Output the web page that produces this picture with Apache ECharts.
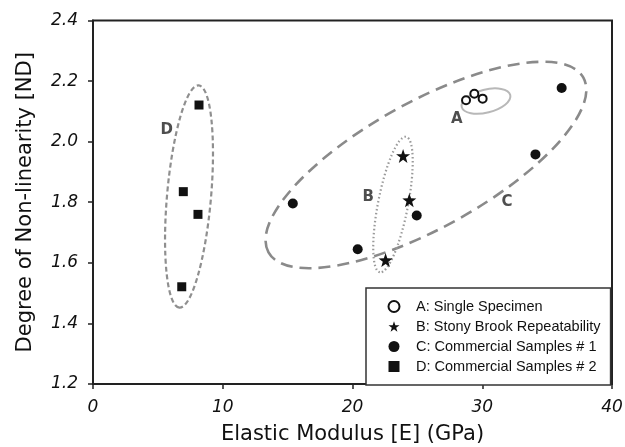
<!DOCTYPE html>
<html>
<head>
<meta charset="utf-8">
<script src="https://cdn.jsdelivr.net/npm/echarts@6/dist/echarts.min.js"></script>
<style>html,body{margin:0;padding:0;background:#fff}#c{width:625px;height:447px}</style>
</head>
<body>
<div id="c"></div>
<script>
// ---- data ----
var seriesNames = ['A: Single Specimen', 'B: Stony Brook Repeatability', 'C: Commercial Samples # 1', 'D: Commercial Samples # 2'];
var dataA = [[28.75, 2.137], [29.39, 2.158], [30.03, 2.142]];
var dataB = [[23.9, 1.953], [24.38, 1.807], [22.55, 1.609]];
var dataC = [[15.4, 1.796], [20.4, 1.645], [24.95, 1.756], [34.1, 1.958], [36.12, 2.177]];
var dataD = [[8.17, 2.121], [6.96, 1.835], [8.09, 1.76], [6.84, 1.521]];
var xTicks = [0, 10, 20, 30, 40];
var yTicks = [1.2, 1.4, 1.6, 1.8, 2.0, 2.2, 2.4];
// group labels (data coords)
var groupLabels = [['A', 28.03, 2.074], ['B', 21.22, 1.818], ['C', 31.9, 1.802], ['D', 5.68, 2.039]];
// enclosing ellipses: centre in data coords
var ellipseCentres = [[25.66, 1.923], [7.40, 1.819], [23.12, 1.7925], [30.29, 2.134]];
// ellipse shape (pixels / degrees) and style
var ellipseShapes = [
  {rx: 180, ry: 63, angle: 29, color: '#8a8a8a', width: 2.6, dash: [12, 7]},
  {rx: 111.5, ry: 22, angle: 85, color: '#8f8f8f', width: 2.2, dash: [5, 3]},
  {rx: 69, ry: 15, angle: 79, color: '#9a9a9a', width: 2.2, dash: [1.5, 2.5]},
  {rx: 25, ry: 11.5, angle: 14, color: '#b8b8b8', width: 2, dash: null}
];

var FONT = 'Liberation Sans, Arial, sans-serif';
var WFONT = 'DejaVu Sans, sans-serif';
var STAR = 'path://M0,-10 L2.35,-3.24 L9.51,-3.09 L3.8,1.24 L5.88,8.09 L0,4 L-5.88,8.09 L-3.8,1.24 L-9.51,-3.09 L-2.35,-3.24 Z';

var chart = echarts.init(document.getElementById('c'), null, {renderer: 'canvas'});
var option = {
  backgroundColor: '#fff',
  animation: false,
  grid: {left: 93, top: 20.5, right: 13, bottom: 63, outerBoundsMode: 'none', containLabel: false,
    show: true, borderColor: '#222', borderWidth: 2, backgroundColor: 'transparent'},
  xAxis: {
    type: 'value', min: xTicks[0], max: xTicks[xTicks.length - 1], interval: 10,
    name: 'Elastic Modulus [E] (GPa)', nameLocation: 'middle', nameGap: 40,
    nameTextStyle: {fontFamily: WFONT, fontSize: 21, color: '#111'},
    axisLine: {show: true, lineStyle: {color: '#222', width: 2}},
    axisTick: {show: true, inside: false, length: 5, lineStyle: {color: '#222', width: 1.5}},
    axisLabel: {fontFamily: WFONT, fontSize: 17, fontStyle: 'italic', color: '#111', margin: 15},
    splitLine: {show: false}
  },
  yAxis: {
    type: 'value', min: yTicks[0], max: yTicks[yTicks.length - 1], interval: 0.2,
    name: 'Degree of Non-linearity [ND]', nameLocation: 'middle', nameGap: 57, nameRotate: 90,
    nameTextStyle: {fontFamily: WFONT, fontSize: 21, color: '#111'},
    axisLine: {show: true, lineStyle: {color: '#222', width: 2}},
    axisTick: {show: true, inside: false, length: 5, lineStyle: {color: '#222', width: 1.5}},
    axisLabel: {fontFamily: WFONT, fontSize: 17, fontStyle: 'italic', color: '#111', margin: 15,
      formatter: function (v) { return v.toFixed(1); }},
    splitLine: {show: false}
  },
  legend: {
    data: seriesNames,
    orient: 'vertical', left: 366, top: 288,
    padding: [11, 10, 11, 21.5],
    backgroundColor: '#fff',
    borderColor: '#333', borderWidth: 1.5,
    itemWidth: 11, itemHeight: 11, itemGap: 5,
    textStyle: {fontFamily: FONT, fontSize: 14.5, color: '#111', lineHeight: 14, padding: [0, 0, 0, 11.5]},
    selectedMode: false
  },
  series: [
    {
      type: 'custom', name: 'ellipses', coordinateSystem: 'cartesian2d', silent: true, z: 1,
      data: ellipseCentres,
      encode: {x: 0, y: 1},
      renderItem: function (params, api) {
        var s = ellipseShapes[params.dataIndex];
        var p = api.coord([api.value(0), api.value(1)]);
        return {
          type: 'ellipse',
          x: p[0], y: p[1],
          rotation: s.angle * Math.PI / 180,
          shape: {cx: 0, cy: 0, rx: s.rx, ry: s.ry},
          style: {fill: 'none', stroke: s.color, lineWidth: s.width, lineDash: s.dash}
        };
      }
    },
    {
      type: 'scatter', name: 'labels', silent: true, z: 3, symbolSize: 0,
      data: groupLabels.map(function (g) { return {name: g[0], value: [g[1], g[2]]}; }),
      label: {show: true, position: 'inside', formatter: '{b}', fontFamily: WFONT, fontSize: 15, fontWeight: 'bold', color: '#222'}
    },
    {
      type: 'scatter', name: seriesNames[0], z: 5, data: dataA,
      symbol: 'circle', symbolSize: 8,
      itemStyle: {color: '#fff', borderColor: '#111', borderWidth: 2, opacity: 1}
    },
    {
      type: 'scatter', name: seriesNames[1], z: 5, data: dataB,
      symbol: STAR, symbolSize: 14,
      itemStyle: {color: '#111', opacity: 1}
    },
    {
      type: 'scatter', name: seriesNames[2], z: 5, data: dataC,
      symbol: 'circle', symbolSize: 10,
      itemStyle: {color: '#111', opacity: 1}
    },
    {
      type: 'scatter', name: seriesNames[3], z: 5, data: dataD,
      symbol: 'rect', symbolSize: 9,
      itemStyle: {color: '#111', opacity: 1}
    }
  ]
};
chart.setOption(option);
</script>
</body>
</html>
